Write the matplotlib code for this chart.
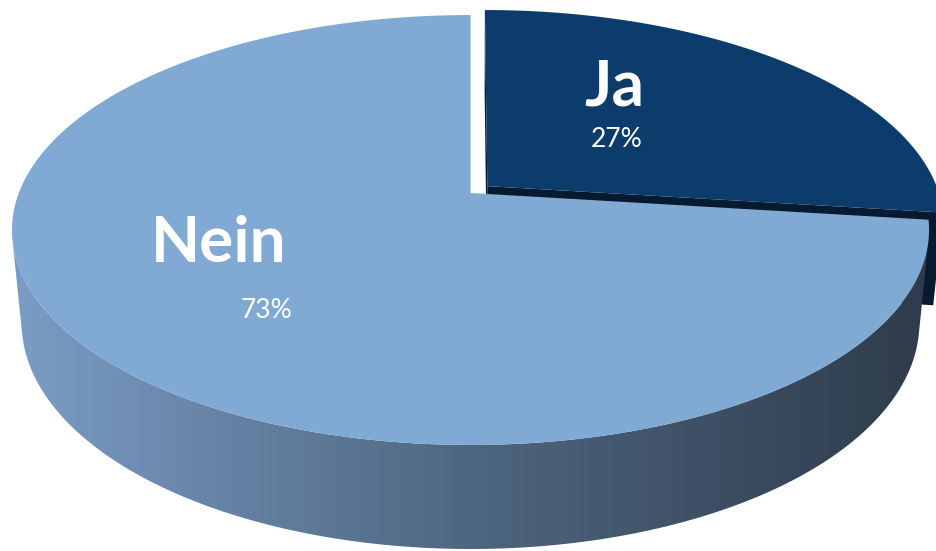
import numpy as np
import matplotlib
matplotlib.use("Agg")
import matplotlib.pyplot as plt
from matplotlib.patches import Polygon
from matplotlib.colors import LinearSegmentedColormap

# ---- data ----
categories = ["Ja", "Nein"]
values = [27, 73]
pct_labels = ["27%", "73%"]
explode = [0.05, 0.0]
top_colors = ["#0C3C6B", "#80AAD4"]
face_colors = ["#061B30", "#3C4E64"]

W, H = 936, 551
fig = plt.figure(figsize=(9.36, 5.51), dpi=100)
ax = fig.add_axes([0, 0, 1, 1])

# ---- perspective geometry (pixel space) ----
CX, CY = 470.5, 193.0
SIN_E = 0.4618
COS_E = np.sqrt(1 - SIN_E ** 2)
DIST = 5.154
FOC = 2328.0
DEPTH = 0.2336
CAM = np.array([0.0, DIST * COS_E])


def project(X, Y, Z):
    X = np.asarray(X, float); Y = np.asarray(Y, float); Z = np.asarray(Z, float)
    sy = -Y * SIN_E + Z * COS_E
    dz = Y * COS_E + Z * SIN_E
    s = FOC / (DIST - dz)
    return CX + s * X, CY - s * sy


total = float(sum(values))
bounds = np.concatenate([[0], np.cumsum(values)]) / total * 360.0 - 90.0

wall_cmap = LinearSegmentedColormap.from_list(
    "wall", [(0.0, "#7B9CC5"), (0.5, "#4E6680"), (1.0, "#2E3B4B")])

z = 1
for i, cat in enumerate(categories):
    t0, t1 = np.radians(bounds[i]), np.radians(bounds[i + 1])
    tm = 0.5 * (t0 + t1)
    ox, oy = explode[i] * np.cos(tm), explode[i] * np.sin(tm)
    rel = CAM - np.array([ox, oy])

    # radial cut faces
    for tt, sign in ((t0, -1), (t1, 1)):
        n = np.array([-np.sin(tt), np.cos(tt)]) * sign
        if rel @ n > 0:
            X = [ox, ox + np.cos(tt), ox + np.cos(tt), ox]
            Y = [oy, oy + np.sin(tt), oy + np.sin(tt), oy]
            Zs = [0, 0, -DEPTH, -DEPTH]
            px, py = project(X, Y, Zs)
            ax.add_patch(Polygon(np.column_stack([px, py]), closed=True,
                                 facecolor=face_colors[i], edgecolor="none", zorder=z))
    z += 1

    # outer wall (visible part)
    ts = np.linspace(t0, t1, 600)
    vis = (rel[0] * np.cos(ts) + rel[1] * np.sin(ts)) > 1.0
    if vis.any():
        tv = ts[vis]
        xt, yt = project(ox + np.cos(tv), oy + np.sin(tv), np.zeros_like(tv))
        xb, yb = project(ox + np.cos(tv[::-1]), oy + np.sin(tv[::-1]), -DEPTH * np.ones_like(tv))
        verts = np.column_stack([np.concatenate([xt, xb]), np.concatenate([yt, yb])])
        wall = Polygon(verts, closed=True, facecolor="none", edgecolor="none", zorder=z)
        ax.add_patch(wall)
        x0, x1 = verts[:, 0].min(), verts[:, 0].max()
        im = ax.imshow(np.linspace(0, 1, 512).reshape(1, -1), cmap=wall_cmap,
                       extent=[x0, x1, H, 0], aspect="auto", zorder=z,
                       interpolation="bilinear")
        im.set_clip_path(wall)
    z += 1

    # top face
    xt, yt = project(ox + np.cos(ts), oy + np.sin(ts), np.zeros_like(ts))
    cxp, cyp = project(ox, oy, 0)
    verts = np.column_stack([np.concatenate([[cxp], xt]), np.concatenate([[cyp], yt])])
    ax.add_patch(Polygon(verts, closed=True, facecolor=top_colors[i],
                         edgecolor="none", zorder=z))
    z += 1

# ---- labels ----
lab_pos = [(614, 105), (219, 262)]
pct_pos = [(617, 147), (266, 318)]
for i, cat in enumerate(categories):
    ax.text(*lab_pos[i], cat, color="white", fontsize=46, fontweight="bold",
            family="Lato", ha="center", va="baseline", zorder=20)
    ax.text(*pct_pos[i], pct_labels[i], color="white", fontsize=19,
            family="Lato", ha="center", va="baseline", zorder=20)

ax.set_xlim(0, W)
ax.set_ylim(H, 0)
ax.axis("off")
fig.savefig("out.png", dpi=100, facecolor="white")
